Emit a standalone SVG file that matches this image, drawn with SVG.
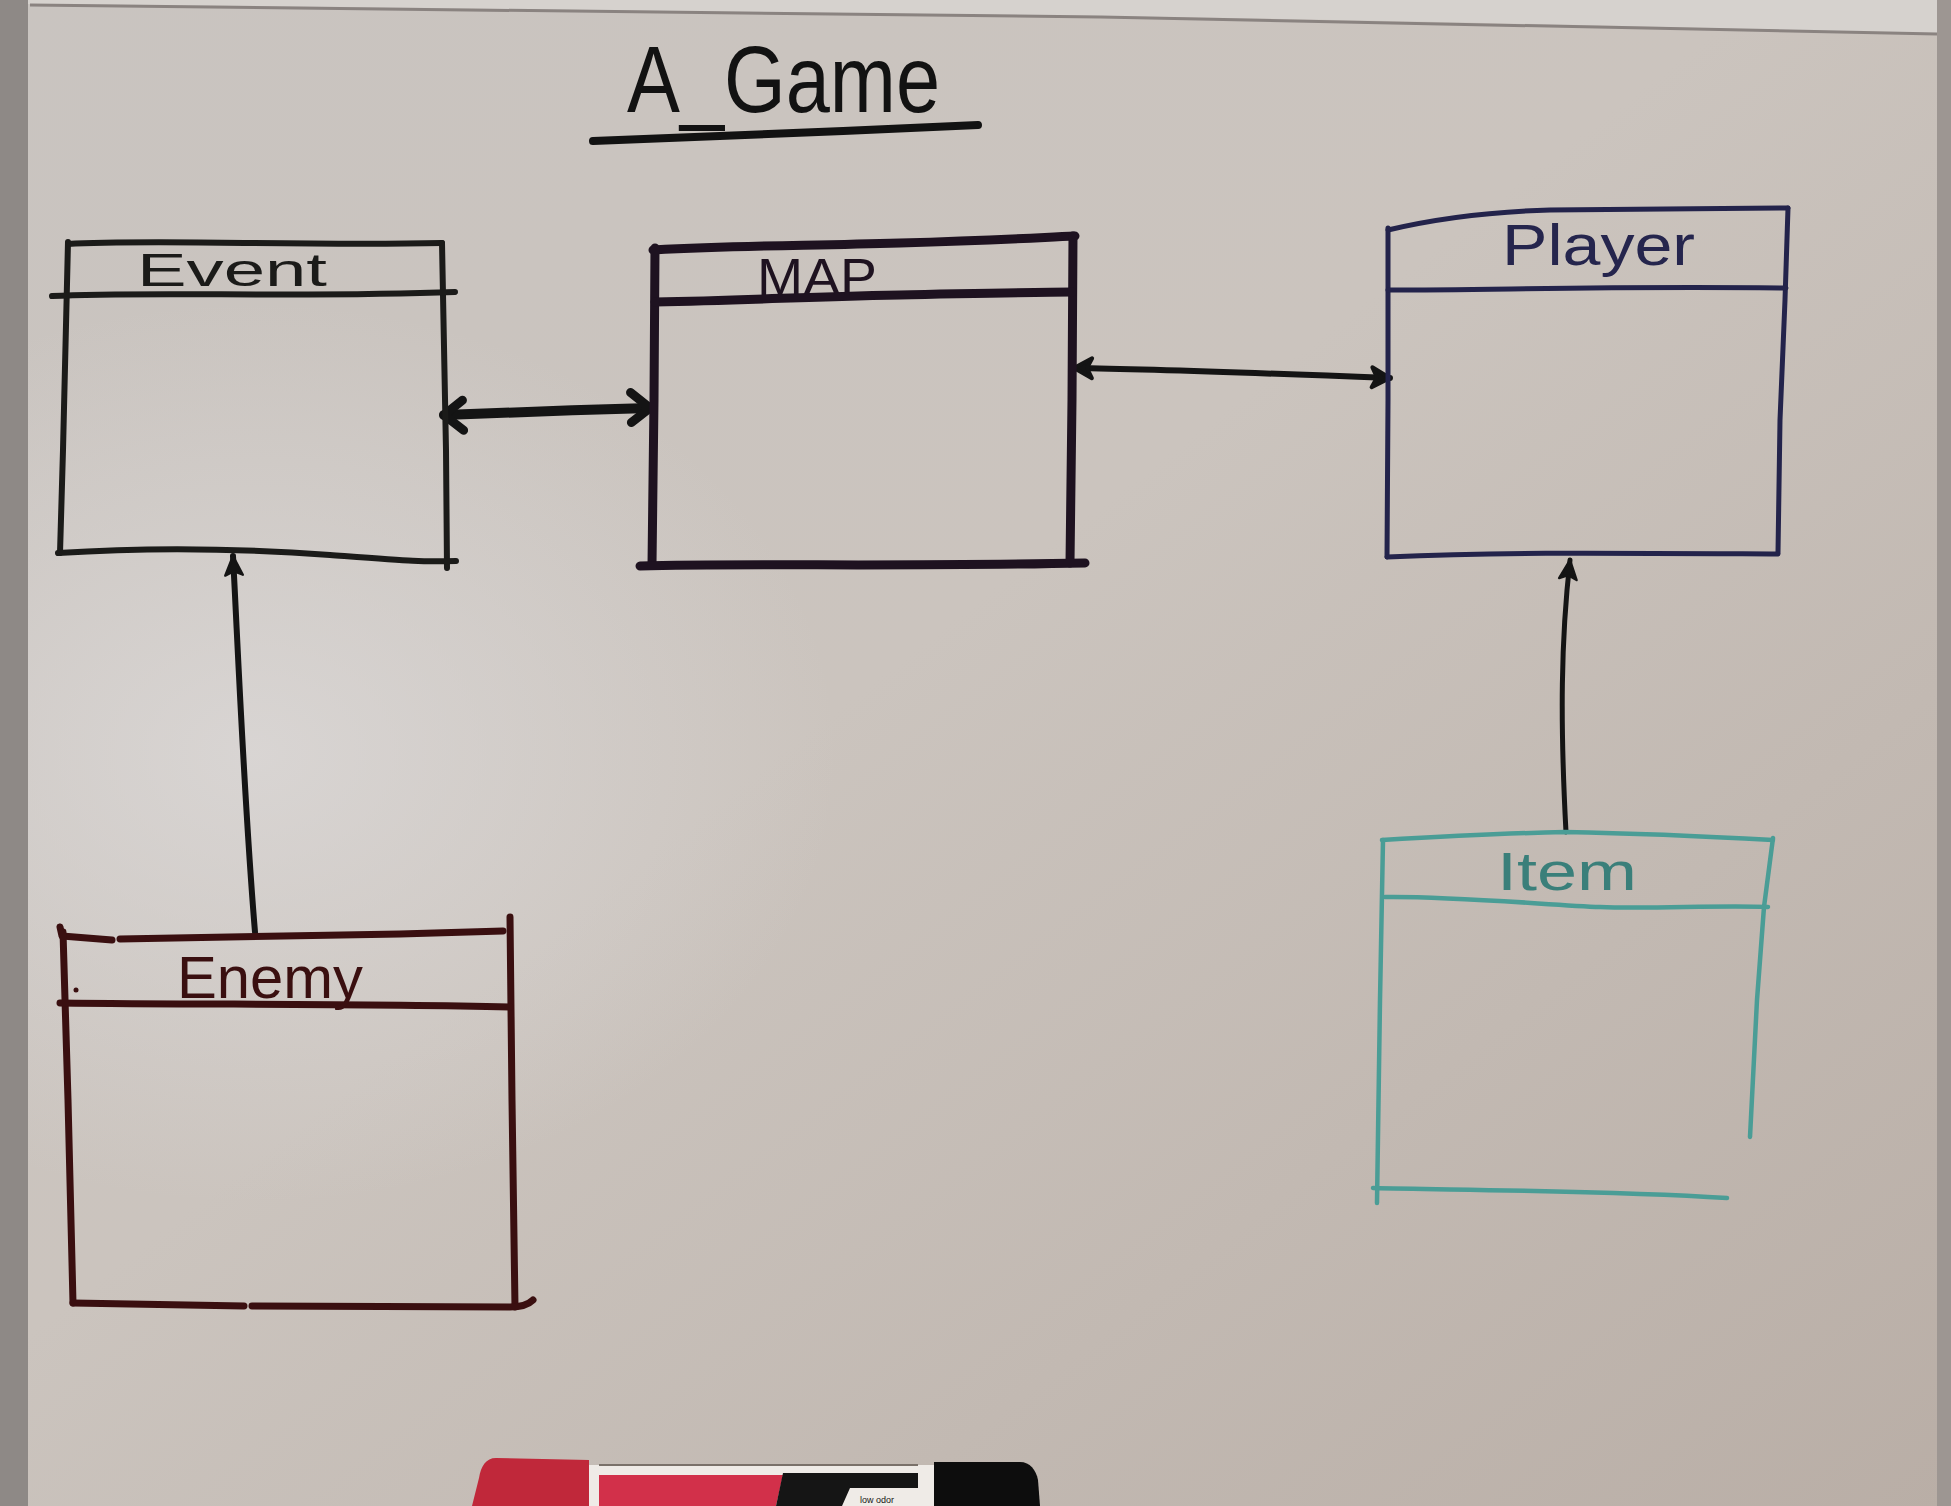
<svg xmlns="http://www.w3.org/2000/svg" width="1951" height="1506" viewBox="0 0 1951 1506">
  <defs>
    <linearGradient id="board" x1="0" y1="0" x2="1" y2="1">
      <stop offset="0" stop-color="#c9c4c0"/>
      <stop offset="0.45" stop-color="#cbc4be"/>
      <stop offset="1" stop-color="#b9aea6"/>
    </linearGradient>
    <radialGradient id="glare" cx="0.13" cy="0.5" r="0.3">
      <stop offset="0" stop-color="#dcd9d8" stop-opacity="0.8"/>
      <stop offset="1" stop-color="#dcd9d8" stop-opacity="0"/>
    </radialGradient>
    <marker id="chevBig" markerUnits="userSpaceOnUse" markerWidth="50" markerHeight="50" viewBox="-30 -25 50 50" refX="0" refY="0" orient="auto-start-reverse" overflow="visible">
      <path d="M-19,-16 L0,0 L-19,14" fill="none" stroke="#141414" stroke-width="9" stroke-linecap="round" stroke-linejoin="round"/>
    </marker>
    <marker id="headSmall" markerUnits="userSpaceOnUse" markerWidth="40" markerHeight="40" viewBox="-25 -20 40 40" refX="0" refY="0" orient="auto-start-reverse" overflow="visible">
      <path d="M0,0 L-18,-10 L-13,0 L-18,10 Z" fill="#141414" stroke="#141414" stroke-width="4" stroke-linejoin="round"/>
    </marker>
    <marker id="headFill" markerUnits="userSpaceOnUse" markerWidth="40" markerHeight="40" viewBox="-30 -20 50 40" refX="0" refY="0" orient="auto" overflow="visible">
      <path d="M0,0 L-24,-11 L-19,0 L-24,11 Z" fill="#141414" stroke="#141414" stroke-width="3" stroke-linejoin="round"/>
    </marker>
  </defs>
  <style>
    .ink { fill: none; stroke-linecap: round; stroke-linejoin: round; }
    .label { font-family: "Liberation Sans", "DejaVu Sans", sans-serif; font-weight: normal; }
    .event { stroke: #1b1b19; stroke-width: 6; }
    .map { stroke: #1e1220; stroke-width: 9; }
    .player { stroke: #23234b; stroke-width: 5; }
    .enemy { stroke: #3a0f10; stroke-width: 7; }
    .item { stroke: #4a9d96; stroke-width: 4.5; }
    .conn { fill: none; stroke: #141414; stroke-linecap: round; }
  </style>

  <!-- whiteboard -->
  <g id="background">
    <rect x="0" y="0" width="1951" height="1506" fill="url(#board)"/>
    <rect x="0" y="0" width="1951" height="1506" fill="url(#glare)"/>
    <path d="M0,0 L1951,0 L1951,36 L1937,34 C1700,28 1400,20 1100,16 C800,13 500,8 30,4 L0,4 Z" fill="#d6d2ce"/>
    <path d="M30,5 C500,9 800,14 1100,17 C1400,21 1700,29 1937,34" fill="none" stroke="#8a8380" stroke-width="3"/>
    <rect x="0" y="0" width="28" height="1506" fill="#8e8986"/>
    <rect x="1937" y="0" width="14" height="1506" fill="#9d9692"/>
  </g>

  <!-- title -->
  <g id="title">
    <text class="label" x="627" y="112" font-size="94" textLength="313" lengthAdjust="spacingAndGlyphs" fill="#121212">A_Game</text>
    <path class="ink" d="M593,141 C700,137 850,131 978,125" stroke="#121212" stroke-width="8"/>
  </g>

  <!-- connectors -->
  <g id="connectors">
    <path id="event-map" class="conn" d="M444,415 C520,412 580,410 650,408" stroke-width="10" marker-start="url(#chevBig)" marker-end="url(#chevBig)"/>
    <path id="map-player" class="conn" d="M1074,368 C1150,369 1260,373 1390,378" stroke-width="6" marker-start="url(#headSmall)" marker-end="url(#headSmall)"/>
    <path id="enemy-event" class="conn" d="M255,932 C244,800 238,650 233,556" stroke-width="6" marker-end="url(#headFill)"/>
    <path id="item-player" class="conn" d="M1566,832 C1560,720 1561,640 1570,560" stroke-width="5" marker-end="url(#headFill)"/>
  </g>

  <!-- Event -->
  <g id="node-event">
    <path class="ink event" d="M68,244 C150,239 300,246 442,243"/>
    <path class="ink event" d="M68,242 L63,450 L60,553"/>
    <path class="ink event" d="M442,243 L446,450 L447,568"/>
    <path class="ink event" d="M52,296 C150,291 300,298 455,292"/>
    <path class="ink event" d="M58,553 C150,547 250,549 330,555 S420,562 456,561"/>
    <text class="label" x="137" y="286" font-size="46" textLength="190" lengthAdjust="spacingAndGlyphs" fill="#1b1b19">Event</text>
  </g>

  <!-- MAP -->
  <g id="node-map">
    <path class="ink map" d="M653,250 C750,245 800,246 900,243 S1030,238 1075,236"/>
    <path class="ink map" d="M655,248 L654,400 L652,565"/>
    <path class="ink map" d="M1073,236 L1072,400 L1070,563"/>
    <path class="ink map" d="M655,302 C750,300 800,297 900,295 S1040,292 1072,292"/>
    <path class="ink map" d="M640,566 C750,563 900,567 1085,563"/>
    <text class="label" x="757" y="295" font-size="52" textLength="120" lengthAdjust="spacingAndGlyphs" fill="#1e1220">MAP</text>
  </g>

  <!-- Player -->
  <g id="node-player">
    <path class="ink player" d="M1388,230 C1430,220 1480,212 1550,210 L1788,208"/>
    <path class="ink player" d="M1388,228 L1388,400 L1387,557"/>
    <path class="ink player" d="M1788,208 L1785,300 L1780,420 L1778,553"/>
    <path class="ink player" d="M1388,290 C1500,290 1600,286 1786,288"/>
    <path class="ink player" d="M1387,557 C1500,552 1600,553 1778,554"/>
    <text class="label" x="1502" y="265" font-size="58" textLength="193" lengthAdjust="spacingAndGlyphs" fill="#25254d">Player</text>
  </g>

  <!-- Enemy -->
  <g id="node-enemy">
    <path class="ink enemy" d="M60,927 L62,936 L112,940 M120,939 L400,934 L503,931"/>
    <path class="ink enemy" d="M63,932 L68,1100 L73,1303"/>
    <path class="ink enemy" d="M510,917 L512,1100 L515,1307"/>
    <path class="ink enemy" d="M60,1003 C200,1005 350,1003 510,1007"/>
    <path class="ink enemy" d="M73,1303 L244,1306 M252,1306 L510,1307 C520,1307 528,1305 533,1300"/>
    <circle cx="76" cy="990" r="2.5" fill="#3a0f10"/>
    <text class="label" x="177" y="998" font-size="60" textLength="186" lengthAdjust="spacingAndGlyphs" fill="#3a0f10">Enemy</text>
  </g>

  <!-- Item -->
  <g id="node-item">
    <path class="ink item" d="M1382,840 C1450,836 1520,833 1565,832 C1620,833 1700,836 1773,840"/>
    <path class="ink item" d="M1383,840 L1380,1000 L1377,1203"/>
    <path class="ink item" d="M1773,838 L1764,907 L1757,1000 L1750,1137"/>
    <path class="ink item" d="M1385,897 C1450,896 1550,905 1600,907 S1720,905 1768,907"/>
    <path class="ink item" d="M1373,1188 C1450,1190 1600,1190 1727,1198"/>
    <text class="label" x="1497" y="890" font-size="54" textLength="140" lengthAdjust="spacingAndGlyphs" fill="#3a7f7a">Item</text>
  </g>

  <!-- marker pen on the tray -->
  <g id="pen">
    <path d="M472,1506 L479,1478 C481,1466 486,1458 496,1458 L589,1460 L589,1506 Z" fill="#c0283a"/>
    <rect x="589" y="1465" width="345" height="41" fill="#efebe7"/>
    <line x1="599" y1="1465" x2="918" y2="1465" stroke="#7a716a" stroke-width="2"/>
    <path d="M599,1475 L783,1475 L776,1506 L599,1506 Z" fill="#d2304a"/>
    <path d="M783,1473 L918,1473 L918,1488 L850,1488 L842,1506 L776,1506 Z" fill="#151515"/>
    <path d="M934,1462 L1020,1462 C1030,1462 1036,1470 1038,1480 L1040,1506 L934,1506 Z" fill="#0d0d0d"/>
    <text class="label" x="860" y="1503" font-size="9" fill="#151515">low odor</text>
  </g>
</svg>
